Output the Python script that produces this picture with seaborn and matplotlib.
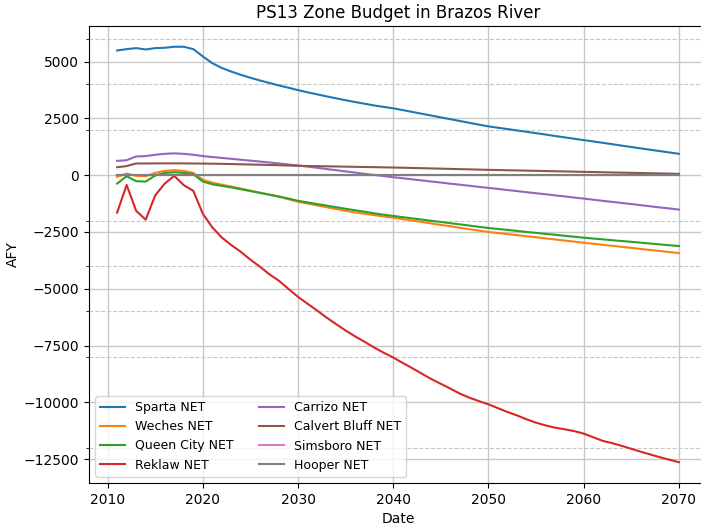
import matplotlib
matplotlib.use("Agg")
import matplotlib.pyplot as plt
import seaborn as sns
from matplotlib.ticker import MultipleLocator

# Zone budget per layer, AFY, one value per year 2011-2070
years = list(range(2011, 2071))

sparta = [5490, 5550, 5595, 5535, 5595, 5610, 5655, 5655, 5550, 5230,
          4930, 4720, 4560, 4420, 4290, 4170, 4060, 3950, 3850, 3745,
          3650, 3560, 3470, 3385, 3300, 3220, 3145, 3070, 3005, 2945,
          2865, 2785, 2705, 2625, 2545, 2465, 2385, 2305, 2225, 2150,
          2090, 2030, 1970, 1910, 1850, 1790, 1725, 1665, 1605, 1545,
          1485, 1425, 1365, 1300, 1240, 1180, 1120, 1060, 1000, 940]

weches = [-70, 70, -30, -45, 100, 190, 220, 190, 100, -200,
          -330, -420, -500, -590, -680, -770, -860, -950, -1060, -1170,
          -1250, -1330, -1410, -1490, -1570, -1640, -1700, -1760, -1815, -1870,
          -1935, -2000, -2060, -2125, -2190, -2250, -2315, -2380, -2440, -2500,
          -2550, -2595, -2640, -2690, -2735, -2785, -2830, -2880, -2925, -2975,
          -3020, -3065, -3110, -3155, -3200, -3250, -3295, -3340, -3385, -3430]

queen_city = [-370, -45, -265, -280, -15, 100, 130, 100, 45, -280,
              -400, -470, -540, -620, -700, -780, -860, -940, -1030, -1130,
              -1200, -1270, -1340, -1410, -1480, -1545, -1610, -1680, -1740, -1795,
              -1850, -1900, -1955, -2010, -2060, -2115, -2165, -2220, -2275, -2326,
              -2370, -2410, -2455, -2500, -2540, -2585, -2625, -2670, -2710, -2753,
              -2790, -2825, -2865, -2900, -2935, -2975, -3010, -3050, -3085, -3121]

reklaw = [-1650, -430, -1570, -1960, -890, -370, -30, -440, -690, -1700,
          -2300, -2750, -3080, -3380, -3720, -4030, -4370, -4650, -5010, -5360,
          -5660, -5960, -6270, -6560, -6840, -7100, -7340, -7590, -7820, -8030,
          -8270, -8500, -8740, -8980, -9190, -9400, -9620, -9800, -9950, -10090,
          -10260, -10430, -10580, -10750, -10900, -11020, -11120, -11190, -11270, -11380,
          -11540, -11700, -11800, -11920, -12050, -12180, -12300, -12420, -12530, -12640]

carrizo = [630, 660, 825, 840, 900, 940, 960, 940, 900, 840,
           800, 760, 720, 680, 640, 600, 560, 515, 470, 428,
           375, 325, 270, 220, 165, 115, 60, 10, -40, -90,
           -135, -185, -230, -280, -325, -375, -420, -465, -515, -560,
           -605, -655, -700, -750, -795, -840, -890, -935, -985, -1030,
           -1080, -1130, -1175, -1225, -1270, -1320, -1370, -1420, -1465, -1515]

calvert_bluff = [350, 400, 515, 515, 520, 520, 520, 520, 515, 510,
                 505, 500, 490, 480, 470, 460, 450, 440, 425, 412,
                 405, 397, 390, 383, 375, 368, 360, 353, 345, 338,
                 328, 318, 308, 297, 287, 277, 266, 256, 245, 235,
                 226, 217, 209, 200, 191, 182, 173, 165, 156, 147,
                 138, 129, 120, 112, 103, 94, 85, 77, 68, 59]

simsboro = [0] * len(years)
hooper = [0] * len(years)

series = [
    ("Sparta NET", sparta),
    ("Weches NET", weches),
    ("Queen City NET", queen_city),
    ("Reklaw NET", reklaw),
    ("Carrizo NET", carrizo),
    ("Calvert Bluff NET", calvert_bluff),
    ("Simsboro NET", simsboro),
    ("Hooper NET", hooper),
]
colors = sns.color_palette("tab10", 8)

fig = plt.figure(figsize=(7.01, 5.25), dpi=100)
# axes run past the right edge, the reference image is cropped there
ax = fig.add_axes([0.127, 0.08, 0.8816, 0.8705])

for (name, vals), c in zip(series, colors):
    sns.lineplot(x=years, y=vals, label=name, color=c, ax=ax)

ax.yaxis.set_minor_locator(MultipleLocator(2000))
ax.grid(which="major", color="#c8c8c8", linewidth=1)
ax.grid(which="minor", axis="y", color="#c8c8c8", linestyle="--", linewidth=0.8)
ax.set_axisbelow(True)

ax.set_title("PS13 Zone Budget in Brazos River")
ax.set_xlabel("Date")
ax.set_ylabel("AFY")
ax.yaxis.set_label_coords(-0.112, 0.5)
ax.legend(ncol=2, loc="lower left", fontsize=9)

fig.savefig("out.png", dpi=100)
